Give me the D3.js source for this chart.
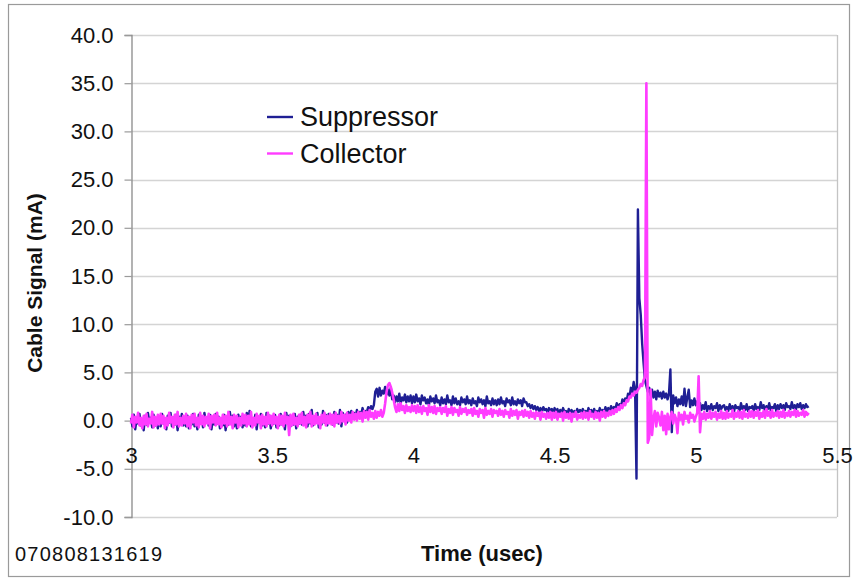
<!DOCTYPE html>
<html>
<head>
<meta charset="utf-8">
<script src="https://cdn.jsdelivr.net/npm/d3@7"></script>
<style>
  html, body { margin: 0; padding: 0; background: #fff; }
  svg { display: block; font-family: "Liberation Sans", Arial, sans-serif; }
</style>
</head>
<body>
<svg id="chart" width="853" height="581"></svg>
<script>
// ---- data ----
const seriesNames = ["Suppressor", "Collector"];
const seriesColors = ["#1f1f94", "#ff3cff"];
const seriesWidths = [2.4, 2.6];
const timeStart = 3.0;     // usec, first sample
const timeStep = 0.005;    // usec between samples
const suppressor = [
  0.3,-0.6,0.6,-0.9,0.2,-0.3,0.7,-0.5,0.1,-1.0,
  0.5,-0.4,0.8,-0.2,0.3,-0.7,0.6,-0.5,0.2,-0.8,
  0.4,-0.6,0.7,-0.3,0.2,-0.9,0.5,-0.2,0.8,-0.6,
  0.3,-0.4,0.6,-1.0,0.4,-0.3,0.7,-0.5,0.2,-0.6,
  0.5,-0.8,0.3,-0.4,0.7,-0.6,0.2,-0.9,0.6,-0.3,
  0.4,-0.7,0.8,-0.2,0.3,-0.5,0.6,-0.9,0.2,-0.4,
  0.7,-0.3,0.4,-0.8,0.2,-0.5,0.6,-1.0,0.3,-0.4,
  0.9,-0.2,0.5,-0.6,0.2,-0.8,0.6,-0.3,0.4,-0.7,
  0.3,-0.5,0.8,-0.3,1.0,-0.6,0.2,-0.4,0.6,-0.9,
  0.4,-0.2,0.7,-0.5,0.3,-0.7,0.8,-0.3,0.5,-0.8,
  0.4,-0.3,0.6,-0.7,0.2,-0.5,0.7,-0.4,0.3,-0.9,
  0.8,-0.2,0.5,-0.6,0.3,-0.4,0.7,-0.8,0.4,-0.3,
  0.6,-0.4,0.9,-0.2,0.5,-0.6,0.7,-0.3,1.1,-0.5,
  0.4,-0.2,0.8,-0.7,0.3,-0.4,1.0,-0.2,0.6,-0.5,
  0.7,-0.1,0.5,-0.4,0.9,-0.2,0.6,-0.3,1.1,-0.6,
  0.8,0.0,0.6,-0.2,0.9,0.1,1.0,0.2,0.8,0.3,
  1.1,0.4,0.9,0.6,1.3,0.7,1.0,0.9,1.4,1.0,
  1.5,1.2,1.6,3.0,3.3,2.5,3.4,2.6,3.1,2.8,
  3.5,2.7,3.2,2.6,3.4,2.2,2.6,1.9,2.5,2.0,
  2.8,1.8,2.4,2.1,2.7,1.9,2.5,2.0,2.6,1.8,
  2.5,1.9,2.7,2.0,2.3,1.7,2.6,2.1,2.4,1.8,
  2.2,1.6,2.5,2.0,2.3,1.8,2.6,1.9,2.1,1.6,
  2.4,1.8,2.2,1.7,2.6,1.9,2.1,1.6,2.5,1.8,
  2.3,1.7,2.0,1.6,2.4,1.9,2.2,1.7,2.5,1.8,
  2.1,1.6,2.3,1.8,2.0,1.5,2.4,1.9,2.2,1.7,
  2.1,1.5,2.5,1.8,2.0,1.6,2.3,1.7,2.1,1.6,
  2.2,1.7,2.4,1.8,2.0,1.5,2.3,1.9,2.1,1.6,
  2.4,1.7,2.0,1.6,2.2,1.8,2.1,1.5,2.3,1.9,
  1.9,1.5,1.7,1.3,1.6,1.2,1.5,1.1,1.4,1.0,
  1.3,0.9,1.4,1.1,1.2,0.8,1.3,1.0,1.2,0.8,
  1.3,0.9,1.2,0.7,1.1,0.8,1.3,0.9,1.0,0.6,
  1.2,0.8,1.1,0.7,1.0,0.6,1.2,0.9,1.1,0.8,
  1.2,0.8,1.0,0.7,1.3,0.9,1.1,0.6,1.2,0.8,
  1.0,0.7,1.3,0.9,1.1,0.8,1.4,1.0,1.3,0.9,
  1.5,1.1,1.4,1.2,1.8,1.3,1.7,1.4,2.2,1.8,
  2.3,2.0,2.8,2.4,3.4,2.9,4.0,3.2,-6.0,21.9,
  12.7,11.0,8.0,6.0,4.2,3.6,3.0,3.4,2.6,3.2,
  2.4,3.0,2.2,3.1,2.5,2.9,2.3,3.0,2.4,2.8,
  2.2,2.8,5.3,-1.2,2.6,1.8,2.4,1.5,2.2,1.7,
  2.5,1.6,3.3,1.5,2.4,3.2,1.4,2.1,1.6,2.3,
  1.6,2.0,1.3,1.8,1.1,1.6,1.2,1.9,1.0,1.5,
  1.2,1.7,1.1,1.5,1.3,1.8,1.0,1.6,1.2,1.5,
  1.6,1.1,1.4,1.0,1.7,1.2,1.5,0.9,1.6,1.3,
  1.4,1.0,1.8,1.2,1.5,1.1,1.7,1.0,1.4,1.3,
  1.5,1.0,1.7,1.2,1.4,1.1,1.9,1.3,1.6,1.0,
  1.5,1.2,1.8,1.1,1.4,1.3,1.7,1.0,1.6,1.2,
  1.7,1.3,1.6,1.1,1.8,1.4,1.5,1.2,1.9,1.3,
  1.6,1.2,1.7,1.4,1.8,1.2,1.6,1.3,1.7,1.4,
  1.5
];
const collector = [
  -0.3,0.6,-0.7,0.4,-0.2,0.8,-0.5,0.3,-0.8,0.5,
  -0.4,0.7,-0.6,0.2,-0.3,0.9,-0.7,0.4,-0.5,0.6,
  -0.4,0.7,-0.3,0.5,-0.8,0.3,-0.5,0.8,-0.2,0.4,
  -0.7,0.6,-0.4,0.9,-0.6,0.3,-0.5,0.5,-0.3,0.7,
  -0.6,0.4,-0.8,0.6,-0.2,0.7,-0.5,0.3,-0.7,0.8,
  -0.4,0.5,-0.6,0.4,-0.3,0.7,-0.8,0.5,-0.2,0.6,
  -0.5,0.8,-0.4,0.3,-0.7,0.6,-0.3,0.5,-0.6,0.9,
  -0.4,0.4,-0.8,0.6,-0.2,0.5,-0.7,0.3,-0.5,0.7,
  -0.3,0.6,-0.6,0.5,-0.4,0.9,-0.7,0.3,-0.5,0.7,
  -0.2,0.5,-0.8,0.6,-0.4,0.4,-0.6,0.8,-0.3,0.5,
  -0.5,0.7,-0.3,0.4,-0.8,0.6,-0.4,0.5,-0.6,0.8,
  -0.3,0.4,-1.5,0.6,-0.5,0.7,-0.4,0.3,-0.6,0.6,
  -0.3,0.8,-0.5,0.4,-0.7,0.6,-0.2,0.9,-0.6,0.5,
  -0.4,0.7,-0.3,0.4,-0.8,0.6,-0.2,0.8,-0.5,0.5,
  -0.3,0.7,-0.4,0.6,-0.6,0.8,-0.2,0.5,-0.3,0.9,
  -0.1,0.6,-0.4,0.8,0.0,0.6,-0.2,0.9,0.1,0.7,
  0.0,0.9,0.2,0.8,-0.1,1.0,0.3,0.9,0.1,1.1,
  0.4,0.8,0.2,1.0,0.3,0.9,0.5,1.1,0.4,0.8,
  1.8,3.0,3.7,3.9,3.5,2.9,2.2,1.4,0.9,1.7,
  1.0,1.8,1.1,1.5,0.8,1.6,1.0,1.4,0.9,1.6,
  1.0,1.5,0.8,1.6,0.9,1.4,0.7,1.5,1.0,1.3,
  0.6,1.6,0.9,1.4,0.8,1.5,0.7,1.3,1.0,1.4,
  0.7,1.3,0.9,1.5,0.5,1.2,0.8,1.4,0.6,1.3,
  0.9,1.1,0.5,1.4,0.7,1.2,0.9,1.3,0.6,1.1,
  0.8,1.2,0.5,1.3,0.7,1.0,0.4,1.2,0.8,1.1,
  0.3,1.3,0.6,1.0,0.7,1.2,0.4,1.1,0.8,1.0,
  0.5,1.2,0.6,1.0,0.4,1.1,0.7,0.9,0.3,1.2,
  0.5,1.0,0.6,1.1,0.2,0.9,0.6,1.0,0.4,1.1,
  0.5,0.9,0.3,1.0,0.4,0.8,0.2,0.9,0.5,0.8,
  0.1,0.9,0.4,0.7,0.2,0.8,0.3,0.9,0.1,0.8,
  0.3,0.9,0.1,0.7,0.4,0.8,0.0,0.9,0.3,0.7,
  0.2,0.8,-0.1,0.7,0.4,0.9,0.1,0.6,0.3,0.8,
  0.2,0.9,0.3,0.8,0.1,1.0,0.4,0.7,0.2,0.9,
  0.3,0.8,0.0,0.9,0.4,1.0,0.3,0.8,0.5,1.0,
  0.6,1.1,0.7,1.2,0.9,1.4,1.1,1.6,1.3,1.8,
  1.6,2.1,2.0,2.5,2.4,2.8,2.6,3.0,2.9,3.2,
  3.4,3.8,3.6,4.2,4.5,35.0,-2.3,-1.8,3.2,-1.5,
  0.2,1.0,-0.6,0.8,0.3,-0.5,0.9,-1.0,0.5,-1.4,
  0.7,-0.9,0.4,0.9,-0.3,0.6,0.2,-1.3,0.8,0.1,
  0.6,-0.4,0.9,0.2,0.5,-0.2,0.8,0.3,0.6,-0.1,
  0.4,0.8,4.6,-1.2,0.7,0.2,0.9,0.1,0.7,0.3,
  1.0,0.2,0.8,0.4,0.9,0.1,0.7,0.3,1.0,0.2,
  0.8,0.2,1.0,0.3,0.7,0.4,1.1,0.2,0.8,0.4,
  1.0,0.3,0.9,0.2,1.1,0.4,0.7,0.3,1.0,0.4,
  1.0,0.3,0.9,0.5,1.1,0.2,0.8,0.4,1.0,0.3,
  1.2,0.5,0.9,0.3,1.1,0.4,0.8,0.5,1.0,0.3,
  0.9,0.4,1.1,0.3,0.8,0.5,1.0,0.4,0.9,0.6,
  1.1,0.4,1.0,0.5,0.8,0.6,1.1,0.4,0.9,0.6,
  0.8
];
const yTicks = [40, 35, 30, 25, 20, 15, 10, 5, 0, -5, -10];
const yTickLabels = ["40.0","35.0","30.0","25.0","20.0","15.0","10.0","5.0","0.0","-5.0","-10.0"];
const xTicks = [3, 3.5, 4, 4.5, 5, 5.5];
const xTickLabels = ["3","3.5","4","4.5","5","5.5"];
const xTitle = "Time (usec)";
const yTitle = "Cable Signal (mA)";
const stamp = "070808131619";

// ---- layout ----
const svg = d3.select("#chart");
const L = 131, R = 837, T = 35, B = 517;
const x = d3.scaleLinear().domain([3, 5.5]).range([L, R]);
const y = d3.scaleLinear().domain([-10, 40]).range([B, T]);

// outer frame
svg.append("rect").attr("x", 8.5).attr("y", 4.5).attr("width", 841).attr("height", 572)
  .attr("fill", "#fff").attr("stroke", "#9a9a9a").attr("stroke-width", 1.2);

// gridlines
svg.append("g").selectAll("line").data(yTicks).join("line")
  .attr("x1", L).attr("x2", R)
  .attr("y1", d => Math.round(y(d)) + 0.5).attr("y2", d => Math.round(y(d)) + 0.5)
  .attr("stroke", "#d4d4d4").attr("stroke-width", 1.3);

// right border
svg.append("line").attr("x1", R + 0.5).attr("x2", R + 0.5).attr("y1", T).attr("y2", B)
  .attr("stroke", "#c4c4c4").attr("stroke-width", 1.3);

// y axis
const yAxis = d3.axisLeft(y).tickValues(yTicks).tickSize(7).tickPadding(11)
  .tickFormat(d => yTickLabels[yTicks.indexOf(d)]);
const gy = svg.append("g").attr("transform", `translate(${L + 0.5},0)`).call(yAxis);
gy.select(".domain").attr("stroke", "#8a8a8a").attr("stroke-width", 1.3);
gy.selectAll(".tick line").attr("stroke", "#9a9a9a").attr("stroke-width", 1.2);
gy.selectAll(".tick text").attr("font-size", 22).attr("fill", "#111")
  .attr("font-family", "'Liberation Sans', Arial, sans-serif");

// x axis (labels only, hanging below the zero line)
const xAxis = d3.axisBottom(x).tickValues(xTicks).tickSize(0).tickPadding(27)
  .tickFormat(d => xTickLabels[xTicks.indexOf(d)]);
const gx = svg.append("g").attr("transform", `translate(0,${y(0)})`).call(xAxis);
gx.select(".domain").remove();
gx.selectAll(".tick text").attr("font-size", 22).attr("fill", "#111")
  .attr("font-family", "'Liberation Sans', Arial, sans-serif");

// series
const line = d3.line().x((d, i) => x(timeStart + i * timeStep)).y(d => y(d));
[suppressor, collector].forEach((s, k) => {
  svg.append("path").datum(s).attr("d", line)
    .attr("fill", "none").attr("stroke", seriesColors[k])
    .attr("stroke-width", seriesWidths[k]).attr("stroke-linejoin", "round");
});

// legend
const lg = svg.append("g");
seriesNames.forEach((n, k) => {
  const yy = 117 + k * 36.5;
  lg.append("line").attr("x1", 267).attr("x2", 293).attr("y1", yy).attr("y2", yy)
    .attr("stroke", seriesColors[k]).attr("stroke-width", 2.4);
  lg.append("text").attr("x", 300).attr("y", yy + 9).attr("font-size", 27)
    .attr("fill", "#111").text(n);
});

// titles
svg.append("text").attr("x", 482).attr("y", 561).attr("text-anchor", "middle")
  .attr("font-size", 22).attr("font-weight", "bold").attr("fill", "#111").text(xTitle);
svg.append("text").attr("transform", "translate(42,283) rotate(-90)").attr("text-anchor", "middle")
  .attr("font-size", 21).attr("font-weight", "bold").attr("fill", "#111").text(yTitle);
svg.append("text").attr("x", 15).attr("y", 561).attr("font-size", 20)
  .attr("fill", "#111").attr("textLength", 147).text(stamp);
</script>
</body>
</html>
